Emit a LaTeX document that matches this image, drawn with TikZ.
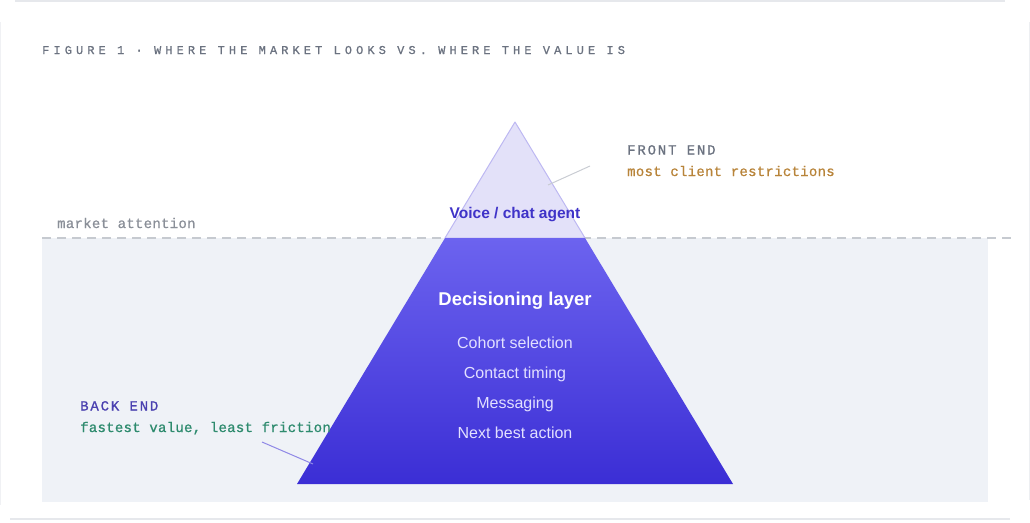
\documentclass[tikz,border=0pt]{standalone}
\usepackage{fontspec}
\setmainfont{Liberation Sans}
\newfontfamily\monof[LetterSpace=2,FakeBold=0.8]{Liberation Mono}
\newfontfamily\monocaps[LetterSpace=13,FakeBold=0.8]{Liberation Mono}
\newfontfamily\monotitle[LetterSpace=34,FakeBold=0.8]{Liberation Mono}
\usetikzlibrary{calc}
\definecolor{cardline}{HTML}{E6E8EC}
\definecolor{panel}{HTML}{EFF2F7}
\definecolor{dashgray}{HTML}{C6CAD0}
\definecolor{labelgray}{HTML}{6B7280}
\definecolor{attgray}{HTML}{8A8F98}
\definecolor{tipfill}{HTML}{E3E1F9}
\definecolor{tipline}{HTML}{BDB8F2}
\definecolor{layertop}{HTML}{6C63EF}
\definecolor{layerbot}{HTML}{3B2ED5}
\definecolor{agentblue}{HTML}{3F33C8}
\definecolor{itemwhite}{HTML}{E2E0FF}
\definecolor{gold}{HTML}{B8843A}
\definecolor{backblue}{HTML}{4A40B0}
\definecolor{teal}{HTML}{2E8B6E}
\definecolor{leadgray}{HTML}{C9CCD3}
\definecolor{leadblue}{HTML}{8F88E6}
\tikzset{
  monolabel/.style={anchor=base west, inner sep=0pt, font=\monof\fontsize{14}{16}\selectfont},
  capslabel/.style={anchor=base west, inner sep=0pt, font=\monocaps\fontsize{14}{16}\selectfont},
  layeritem/.style={anchor=base, inner sep=0pt, text=itemwhite, font=\fontsize{16}{19}\selectfont}
}

\begin{document}
\begin{tikzpicture}[x=1pt, y=-1pt]
		%%%%% START %%%%%
		\useasboundingbox (0,0) rectangle (1030,522);
		
		% card edges
		\draw[cardline, line width=1.5pt] (15,1) -- (1005,1);
		\draw[cardline!60, line width=1pt] (0.5,22) -- (0.5,505);
		\draw[cardline!70, line width=1pt] (1029,22) -- (1029,500);
		\draw[cardline, line width=1.5pt] (10,519) -- (1010,519);
		
		\node[anchor=base west, inner sep=0pt, text=labelgray, font=\monotitle\fontsize{12}{14}\selectfont] (title) at (42,54) {FIGURE 1 · WHERE THE MARKET LOOKS VS. WHERE THE VALUE IS};
		
		% below the waterline
		\fill[panel] (42,238) rectangle (988,502);
		\draw[dashgray, line width=1.5pt, dash pattern=on 9pt off 6pt] (42,238) -- (1016,238);
		\node[monolabel, text=attgray] (attention) at (57,228) {market attention};
		
		% pyramid
		\coordinate (apex) at (515,122);
		\coordinate (wl) at (445,238);
		\coordinate (wr) at (585,238);
		\coordinate (bl) at (297,484);
		\coordinate (br) at (733,484);
		\filldraw[fill=tipfill, draw=tipline, line width=1pt, line join=round] (apex) -- (wr) -- (wl) -- cycle;
		\shade[top color=layertop, bottom color=layerbot] (wl) -- (wr) -- (br) -- (bl) -- cycle;
		
		\node[anchor=base, inner sep=0pt, text=agentblue, font=\bfseries\fontsize{15.5}{18}\selectfont] (agent) at (515,218.5) {Voice / chat agent};
		\node[anchor=base, inner sep=0pt, text=white, font=\bfseries\fontsize{18.5}{22}\selectfont] (layer) at (515,305.5) {Decisioning layer};
		\node[layeritem] (cohort) at (515,348) {Cohort selection};
		\node[layeritem] (timing) at (515,378) {Contact timing};
		\node[layeritem] (msg) at (515,408) {Messaging};
		\node[layeritem] (nba) at (515,438) {Next best action};
		
		% front end callout
		\node[capslabel, text=labelgray] (front) at (627,154.5) {FRONT END};
		\node[monolabel, text=gold] (frontnote) at (627,176) {most client restrictions};
		\coordinate (fronttip) at (548,185);
		\coordinate (frontend) at (590,166);
		\draw[leadgray, line width=1pt] (fronttip) -- (frontend);
		
		% back end callout
		\node[capslabel, text=backblue] (back) at (80,410.5) {BACK END};
		\node[monolabel, text=teal] (backnote) at (80,432) {fastest value, least friction};
		\coordinate (backend) at (262,442);
		\coordinate (backtip) at (313,464);
		\draw[leadblue, line width=1pt] (backend) -- (backtip);
		
		%%%%% END %%%%%
	\end{tikzpicture}
\end{document}
